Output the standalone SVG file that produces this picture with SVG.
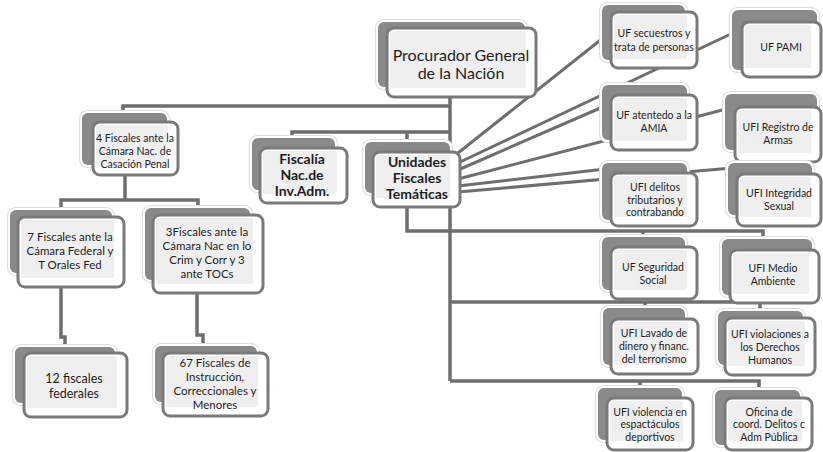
<svg xmlns="http://www.w3.org/2000/svg" width="823" height="452" viewBox="0 0 823 452">
<style>
.bg{fill:#ffffff}
.halo{fill:#ffffff;stroke:#dedede;stroke-width:1.2}
.back{fill:#8a8a8a}
.front{fill:#ffffff;stroke:#7a7a7a;stroke-width:3}
.inner{fill:#efefef}
.c{fill:none;stroke:#6e6e6e;stroke-width:3.5;stroke-linejoin:miter}
.d{fill:none;stroke:#6e6e6e;stroke-width:3}
text{font-family:Lato,"Liberation Sans",sans-serif;fill:#1e1e1e;text-anchor:middle}
.s11{font-size:10.5px}
.s12{font-size:11.5px}
.s13{font-size:12.5px}
.b14{font-size:14px;font-weight:bold}
.s16{font-size:16px}
</style>
<rect class="bg" x="0" y="0" width="823" height="452"/>
<g id="connectors">
<path class="c" d="M450,97 V381"/>
<path class="c" d="M123,120 V106 H450"/>
<path class="c" d="M292,142 V132 H450"/>
<path class="c" d="M407,132 V145"/>
<path class="c" d="M125,175 V200"/>
<path class="c" d="M61,212 V200 H198 V210"/>
<path class="c" d="M61,287 V337 H65 V349"/>
<path class="c" d="M197,293 V335 H203 V348"/>
<path class="c" d="M407,207 V231 H763 V242"/>
<path class="c" d="M643,231 V240"/>
<path class="c" d="M450,302 H760 V313"/>
<path class="c" d="M645,302 V312"/>
<path class="c" d="M450,381 H759 V393"/>
<path class="c" d="M640,381 V391"/>
<path class="d" d="M458,153 L603,38"/>
<path class="d" d="M458,163 L735,32"/>
<path class="d" d="M458,170 L605,106"/>
<path class="d" d="M458,179 L730,108"/>
<path class="d" d="M458,186 L605,169"/>
<path class="d" d="M458,192 L732,168"/>
</g>
<g id="n_pgn">
<rect class="halo" x="375.5" y="19.5" width="152" height="70" rx="8"/>
<rect class="back" x="378" y="22" width="147" height="65" rx="6"/>
<rect class="front" x="387" y="28" width="149" height="69" rx="7"/>
<rect class="inner" x="390" y="31" width="136" height="57" rx="2"/>
<text class="s16" x="461" y="61">Procurador General</text>
<text class="s16" x="461" y="79">de la Nación</text>
</g>
<g id="n_casacion">
<rect class="halo" x="79.5" y="110.5" width="90" height="57" rx="8"/>
<rect class="back" x="82" y="113" width="85" height="52" rx="6"/>
<rect class="front" x="93" y="122" width="85" height="53" rx="7"/>
<rect class="inner" x="96" y="125" width="72" height="41" rx="2"/>
<text class="s11" x="135" y="141.5">4 Fiscales ante la</text>
<text class="s11" x="135" y="154.5">Cámara Nac. de</text>
<text class="s11" x="135" y="167.5">Casación Penal</text>
</g>
<g id="n_federal">
<rect class="halo" x="7.5" y="207.5" width="107" height="68" rx="8"/>
<rect class="back" x="10" y="210" width="102" height="63" rx="6"/>
<rect class="front" x="18" y="217" width="106" height="70" rx="7"/>
<rect class="inner" x="21" y="220" width="93" height="58" rx="2"/>
<text class="s12" x="70" y="241">7 Fiscales ante la</text>
<text class="s12" x="70" y="255">Cámara Federal y</text>
<text class="s12" x="70" y="269">T Orales Fed</text>
</g>
<g id="n_crim">
<rect class="halo" x="142.5" y="205.5" width="110" height="77" rx="8"/>
<rect class="back" x="145" y="208" width="105" height="72" rx="6"/>
<rect class="front" x="153" y="215" width="110" height="78" rx="7"/>
<rect class="inner" x="156" y="218" width="97" height="66" rx="2"/>
<text class="s12" x="207" y="236">3Fiscales ante la</text>
<text class="s12" x="207" y="250">Cámara Nac en lo</text>
<text class="s12" x="207" y="264">Crim y Corr y 3</text>
<text class="s12" x="207" y="278">ante TOCs</text>
</g>
<g id="n_12">
<rect class="halo" x="12.5" y="344.5" width="105" height="61" rx="8"/>
<rect class="back" x="15" y="347" width="100" height="56" rx="6"/>
<rect class="front" x="24" y="353" width="103" height="64" rx="7"/>
<rect class="inner" x="27" y="356" width="90" height="52" rx="2"/>
<text class="s13" x="74" y="383">12 fiscales</text>
<text class="s13" x="74" y="398">federales</text>
</g>
<g id="n_67">
<rect class="halo" x="152.5" y="343.5" width="107" height="61" rx="8"/>
<rect class="back" x="155" y="346" width="102" height="56" rx="6"/>
<rect class="front" x="163" y="353" width="105" height="63" rx="7"/>
<rect class="inner" x="166" y="356" width="92" height="51" rx="2"/>
<text class="s12" x="215" y="367">67 Fiscales de</text>
<text class="s12" x="215" y="381">Instrucción,</text>
<text class="s12" x="215" y="395">Correccionales y</text>
<text class="s12" x="215" y="409">Menores</text>
</g>
<g id="n_fna">
<rect class="halo" x="249.5" y="135.5" width="88" height="57" rx="8"/>
<rect class="back" x="252" y="138" width="83" height="52" rx="6"/>
<rect class="front" x="260" y="148" width="87" height="55" rx="7"/>
<rect class="inner" x="263" y="151" width="74" height="43" rx="2"/>
<text class="b14" x="302" y="164">Fiscalía</text>
<text class="b14" x="302" y="180">Nac.de</text>
<text class="b14" x="302" y="196">Inv.Adm.</text>
</g>
<g id="n_uft">
<rect class="halo" x="362.5" y="139.5" width="90" height="56" rx="8"/>
<rect class="back" x="365" y="142" width="85" height="51" rx="6"/>
<rect class="front" x="373" y="152" width="87" height="55" rx="7"/>
<rect class="inner" x="376" y="155" width="74" height="43" rx="2"/>
<text class="b14" x="417" y="167">Unidades</text>
<text class="b14" x="417" y="183">Fiscales</text>
<text class="b14" x="417" y="199">Temáticas</text>
</g>
<g id="n_secuestros">
<rect class="halo" x="599.5" y="2.5" width="88" height="60" rx="8"/>
<rect class="back" x="602" y="5" width="83" height="55" rx="6"/>
<rect class="front" x="611" y="12" width="86" height="56" rx="7"/>
<rect class="inner" x="614" y="15" width="73" height="44" rx="2"/>
<text class="s11" x="654" y="37">UF secuestros y</text>
<text class="s11" x="654" y="51">trata de personas</text>
</g>
<g id="n_pami">
<rect class="halo" x="729.5" y="7.5" width="90" height="65" rx="8"/>
<rect class="back" x="732" y="10" width="85" height="60" rx="6"/>
<rect class="front" x="742" y="22" width="79" height="55" rx="7"/>
<rect class="inner" x="745" y="25" width="66" height="43" rx="2"/>
<text class="s11" x="781" y="51">UF PAMI</text>
</g>
<g id="n_amia">
<rect class="halo" x="599.5" y="82.5" width="90" height="60" rx="8"/>
<rect class="back" x="602" y="85" width="85" height="55" rx="6"/>
<rect class="front" x="611" y="95" width="86" height="55" rx="7"/>
<rect class="inner" x="614" y="98" width="73" height="43" rx="2"/>
<text class="s11" x="654" y="119">UF atentedo a la</text>
<text class="s11" x="654" y="132">AMIA</text>
</g>
<g id="n_registro">
<rect class="halo" x="722.5" y="91.5" width="97" height="61" rx="8"/>
<rect class="back" x="725" y="94" width="92" height="56" rx="6"/>
<rect class="front" x="735" y="107" width="86" height="55" rx="7"/>
<rect class="inner" x="738" y="110" width="73" height="43" rx="2"/>
<text class="s11" x="778" y="131">UFI Registro de</text>
<text class="s11" x="778" y="144">Armas</text>
</g>
<g id="n_delitos">
<rect class="halo" x="599.5" y="160.5" width="90" height="62" rx="8"/>
<rect class="back" x="602" y="163" width="85" height="57" rx="6"/>
<rect class="front" x="611" y="173" width="86" height="53" rx="7"/>
<rect class="inner" x="614" y="176" width="73" height="41" rx="2"/>
<text class="s11" x="655" y="191">UFI delitos</text>
<text class="s11" x="655" y="203.5">tributarios y</text>
<text class="s11" x="655" y="216">contrabando</text>
</g>
<g id="n_integridad">
<rect class="halo" x="725.5" y="160.5" width="89" height="57" rx="8"/>
<rect class="back" x="728" y="163" width="84" height="52" rx="6"/>
<rect class="front" x="737" y="174" width="84" height="52" rx="7"/>
<rect class="inner" x="740" y="177" width="71" height="40" rx="2"/>
<text class="s11" x="779" y="196.5">UFI Integridad</text>
<text class="s11" x="779" y="209.5">Sexual</text>
</g>
<g id="n_segsocial">
<rect class="halo" x="599.5" y="234.5" width="88" height="58" rx="8"/>
<rect class="back" x="602" y="237" width="83" height="53" rx="6"/>
<rect class="front" x="611" y="247" width="86" height="52" rx="7"/>
<rect class="inner" x="614" y="250" width="73" height="40" rx="2"/>
<text class="s11" x="653" y="270.5">UF Seguridad</text>
<text class="s11" x="653" y="283.5">Social</text>
</g>
<g id="n_medio">
<rect class="halo" x="719.5" y="236.5" width="95" height="61" rx="8"/>
<rect class="back" x="722" y="239" width="90" height="56" rx="6"/>
<rect class="front" x="730" y="250" width="89" height="53" rx="7"/>
<rect class="inner" x="733" y="253" width="76" height="41" rx="2"/>
<text class="s11" x="773" y="272">UFI Medio</text>
<text class="s11" x="773" y="285">Ambiente</text>
</g>
<g id="n_lavado">
<rect class="halo" x="600.5" y="305.5" width="87" height="62" rx="8"/>
<rect class="back" x="603" y="308" width="82" height="57" rx="6"/>
<rect class="front" x="611" y="319" width="87" height="55" rx="7"/>
<rect class="inner" x="614" y="322" width="74" height="43" rx="2"/>
<text class="s11" x="654" y="336.5">UFI Lavado de</text>
<text class="s11" x="654" y="349.5">dinero y financ.</text>
<text class="s11" x="654" y="362.5">del terrorismo</text>
</g>
<g id="n_ddhh">
<rect class="halo" x="715.5" y="308.5" width="90" height="59" rx="8"/>
<rect class="back" x="718" y="311" width="85" height="54" rx="6"/>
<rect class="front" x="725" y="318" width="90" height="57" rx="7"/>
<rect class="inner" x="728" y="321" width="77" height="45" rx="2"/>
<text class="s11" x="770" y="338">UFI violaciones a</text>
<text class="s11" x="770" y="351">los Derechos</text>
<text class="s11" x="770" y="364">Humanos</text>
</g>
<g id="n_violencia">
<rect class="halo" x="595.5" y="385.5" width="89" height="57" rx="8"/>
<rect class="back" x="598" y="388" width="84" height="52" rx="6"/>
<rect class="front" x="607" y="398" width="86" height="52" rx="7"/>
<rect class="inner" x="610" y="401" width="73" height="40" rx="2"/>
<text class="s11" x="650" y="415.5">UFI violencia en</text>
<text class="s11" x="650" y="428">espactáculos</text>
<text class="s11" x="650" y="440.5">deportivos</text>
</g>
<g id="n_oficina">
<rect class="halo" x="712.5" y="387.5" width="90" height="60" rx="8"/>
<rect class="back" x="715" y="390" width="85" height="55" rx="6"/>
<rect class="front" x="725" y="398" width="87" height="52" rx="7"/>
<rect class="inner" x="728" y="401" width="74" height="40" rx="2"/>
<text class="s11" x="769" y="415.5">Oficina de</text>
<text class="s11" x="769" y="428">coord. Delitos c</text>
<text class="s11" x="769" y="440.5">Adm Pública</text>
</g>
</svg>
